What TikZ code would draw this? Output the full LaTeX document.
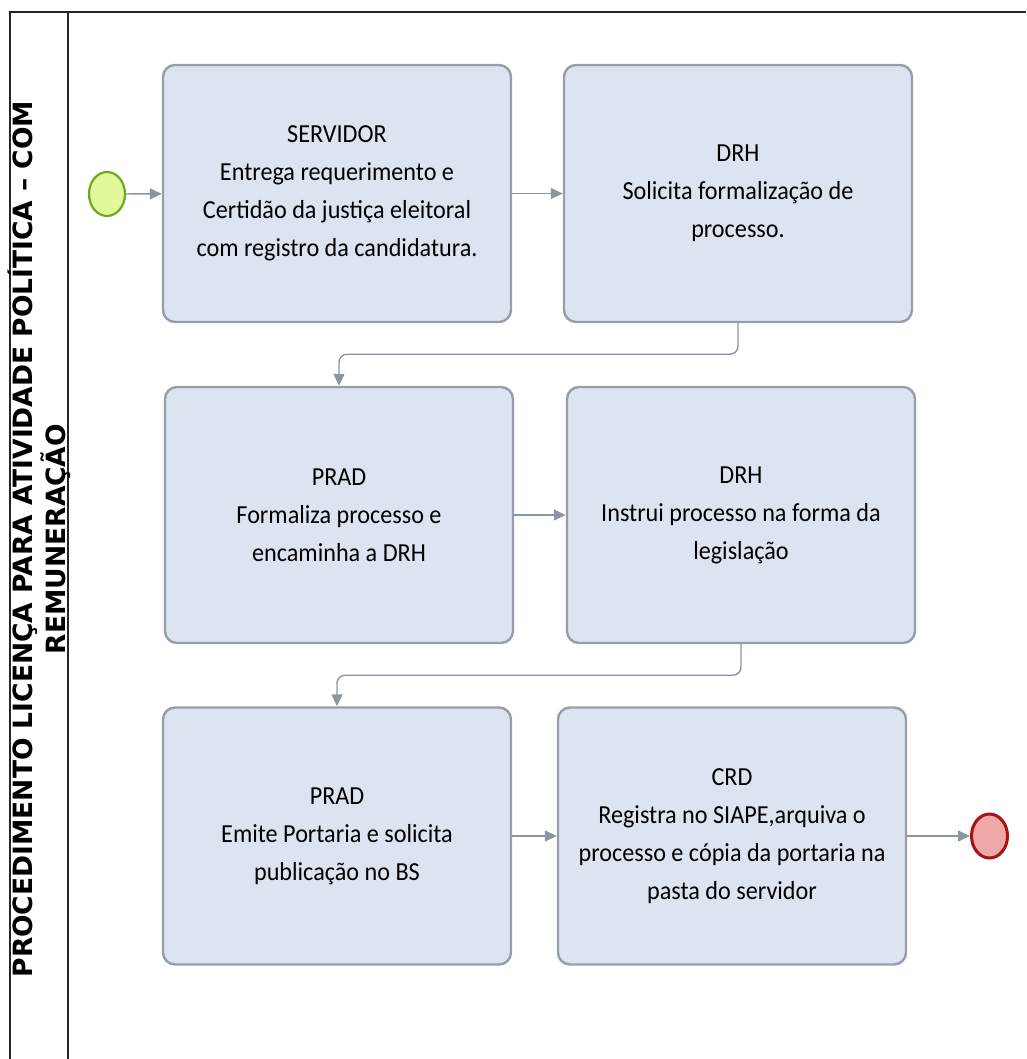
\documentclass[tikz,border=0pt]{standalone}
\usepackage{fontspec}
\usetikzlibrary{shapes.geometric,arrows.meta}
\newfontfamily\boxfont[FakeStretch=0.93]{Carlito}
\newfontfamily\titlefont{DejaVu Sans Bold}
\definecolor{boxfill}{RGB}{220,228,240}
\definecolor{boxline}{RGB}{150,158,170}
\definecolor{arrowc}{RGB}{140,150,163}
\definecolor{startfill}{RGB}{226,249,154}
\definecolor{startline}{RGB}{108,170,32}
\definecolor{endfill}{RGB}{238,168,168}
\definecolor{endline}{RGB}{168,18,18}
\begin{document}
\begin{tikzpicture}[x=1pt,y=-1pt,
  task/.style={draw=boxline,fill=boxfill,line width=2.4pt,rounded corners=12pt,
    minimum width=348pt,minimum height=257pt,inner sep=0pt,align=center,
    font=\boxfont\fontsize{26pt}{38pt}\selectfont},
  conn/.style={draw=arrowc,line width=1.4pt,rounded corners=8pt,
    -{Triangle[length=12pt,width=11pt]}},
  startev/.style={ellipse,draw=startline,fill=startfill,line width=2.2pt,
    minimum width=36pt,minimum height=44pt,inner sep=0pt},
  endev/.style={ellipse,draw=endline,fill=endfill,line width=3pt,
    minimum width=36pt,minimum height=44pt,inner sep=0pt},
  pool/.style={draw=black!85,line width=1.3pt}]
\useasboundingbox (0,0) rectangle (1026,1059);
% pool
\draw[pool] (1026,12) -- (10,12) -- (10,1059);
\draw[pool] (68,12) -- (68,1059);
\node[rotate=90,align=center,font=\titlefont\fontsize{26.5pt}{33pt}\selectfont] (title) at (39,539)
  {PROCEDIMENTO LICENÇA PARA ATIVIDADE POLÍTICA – COM\\REMUNERAÇÃO};
% events
\node[startev] (start) at (107,194) {};
\node[endev] (end) at (989.5,836) {};
% tasks
\node[task] (b1) at (337,193.5) {SERVIDOR\\Entrega requerimento e\\Certidão da justiça eleitoral\\com registro da candidatura.};
\node[task] (b2) at (738,193.5) {DRH\\Solicita formalização de\\processo.};
\node[task,minimum height=256pt] (b3) at (339,515) {PRAD\\Formaliza processo e\\encaminha a DRH};
\node[task,minimum height=256pt] (b4) at (741,515) {DRH\\Instrui processo na forma da\\legislação};
\node[task] (b5) at (337,836) {PRAD\\Emite Portaria e solicita\\publicação no BS};
\node[task] (b6) at (732,836) {CRD\\Registra no SIAPE,arquiva o\\processo e cópia da portaria na\\pasta do servidor};
% connectors
\draw[conn] (start) -- (b1);
\draw[conn] (b1) -- (b2);
\draw[conn] (b2.south) -- ++(0,31) -| (b3.north);
\draw[conn] (b3) -- (b4);
\draw[conn] (b4.south) -- ++(0,31) -| (b5.north);
\draw[conn] (b5) -- (b6);
\draw[conn] (b6) -- (end);
\end{tikzpicture}
\end{document}
